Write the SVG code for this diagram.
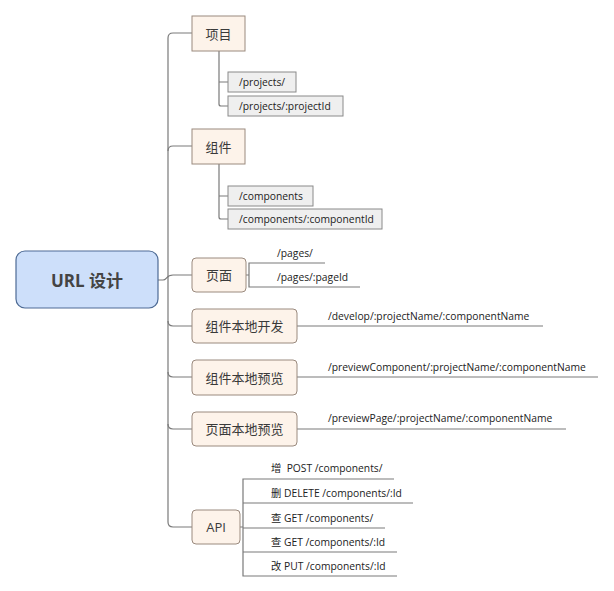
<svg xmlns="http://www.w3.org/2000/svg" width="614" height="591" viewBox="0 0 614 591">
<style>
  .conn { fill: none; stroke: #7a7a7a; stroke-width: 1.2; }
  .root { fill: #cddffa; stroke: #4e6b95; stroke-width: 1.2; }
  .branch { fill: #fdf3ea; stroke: #9a8a7e; stroke-width: 1; }
  .leafbox { fill: #efefef; stroke: #8a8a8a; stroke-width: 1; }
  .rt { font-family: "Open Sans", "Noto Sans CJK SC", sans-serif; font-size: 17px; font-weight: bold; fill: #444; text-anchor: middle; dominant-baseline: central; }
  .bt { font-family: "Open Sans", "Noto Sans CJK SC", sans-serif; font-size: 13px; fill: #3a3a3a; text-anchor: middle; dominant-baseline: central; }
  .lt { font-family: "Open Sans", "Noto Sans CJK SC", sans-serif; font-size: 10.3px; fill: #222; dominant-baseline: central; white-space: pre; }
</style>
<rect width="614" height="591" fill="#ffffff"/>
<g id="connectors">
  <path class="conn" d="M158,280 L163,280 C167,280 166,275 173,275 L192,275"/>
  <path class="conn" d="M168,280 L168,38 Q168,33 173,33 L192,33"/>
  <path class="conn" d="M168,151 Q168,146 173,146 L192,146"/>
  <path class="conn" d="M168,280 L168,522 Q168,527 173,527 L192,527"/>
  <path class="conn" d="M168,321 Q168,326 173,326 L192,326"/>
  <path class="conn" d="M168,372 Q168,377 173,377 L192,377"/>
  <path class="conn" d="M168,424 Q168,429 173,429 L192,429"/>
  <path class="conn" d="M219,51 L219,104 Q219,106 221,106 L228,106 M219,82 L228,82"/>
  <path class="conn" d="M219,164 L219,217 Q219,219 221,219 L228,219 M219,196 L228,196"/>
  <path class="conn" d="M246,275 L249,275 M325,263 L249,263 L249,287 L360,287"/>
  <path class="conn" d="M297,326 L543,326"/>
  <path class="conn" d="M297,377 L598,377"/>
  <path class="conn" d="M297,429 L566,429"/>
  <path class="conn" d="M240,527 L243,527 M394,479 L243,479 L243,576 L397,576 M243,503 L413,503 M243,528 L385,528 M243,552 L397,552"/>
</g>
<g id="root">
  <rect class="root" x="16" y="251" width="142" height="57" rx="9"/>
  <text class="rt" x="87" y="280">URL 设计</text>
</g>
<g id="node-project">
  <rect class="branch" x="192" y="16" width="53" height="35"/>
  <text class="bt" x="218.5" y="33.5">项目</text>
</g>
<g id="leaf-projects">
  <rect class="leafbox" x="228" y="72" width="68" height="20"/>
  <text class="lt" x="239" y="82">/projects/</text>
</g>
<g id="leaf-projectId">
  <rect class="leafbox" x="228" y="96" width="115" height="20"/>
  <text class="lt" x="239" y="106">/projects/:projectId</text>
</g>
<g id="node-component">
  <rect class="branch" x="192" y="129" width="53" height="35"/>
  <text class="bt" x="218.5" y="146.5">组件</text>
</g>
<g id="leaf-components">
  <rect class="leafbox" x="228" y="186" width="85" height="20"/>
  <text class="lt" x="239" y="196">/components</text>
</g>
<g id="leaf-componentId">
  <rect class="leafbox" x="228" y="209" width="154" height="20"/>
  <text class="lt" x="239" y="219">/components/:componentId</text>
</g>
<g id="node-page">
  <rect class="branch" x="192" y="258" width="54" height="34" rx="4"/>
  <text class="bt" x="219" y="275">页面</text>
  <text class="lt" x="277" y="253">/pages/</text>
  <text class="lt" x="277" y="277">/pages/:pageId</text>
</g>
<g id="node-dev">
  <rect class="branch" x="192" y="309" width="105" height="34" rx="4"/>
  <text class="bt" x="244.5" y="326">组件本地开发</text>
  <text class="lt" x="328" y="316">/develop/:projectName/:componentName</text>
</g>
<g id="node-preview-component">
  <rect class="branch" x="192" y="360" width="105" height="35" rx="4"/>
  <text class="bt" x="244.5" y="377.5">组件本地预览</text>
  <text class="lt" x="328" y="367">/previewComponent/:projectName/:componentName</text>
</g>
<g id="node-preview-page">
  <rect class="branch" x="192" y="412" width="105" height="34" rx="4"/>
  <text class="bt" x="244.5" y="429">页面本地预览</text>
  <text class="lt" x="328" y="418">/previewPage/:projectName/:componentName</text>
</g>
<g id="node-api">
  <rect class="branch" x="192" y="510" width="48" height="34" rx="4"/>
  <text class="bt" x="216" y="527">API</text>
  <text class="lt" x="271" y="468">增  POST /components/</text>
  <text class="lt" x="271" y="493">删 DELETE /components/:Id</text>
  <text class="lt" x="271" y="518">查 GET /components/</text>
  <text class="lt" x="271" y="542">查 GET /components/:Id</text>
  <text class="lt" x="271" y="566">改 PUT /components/:Id</text>
</g>
</svg>
